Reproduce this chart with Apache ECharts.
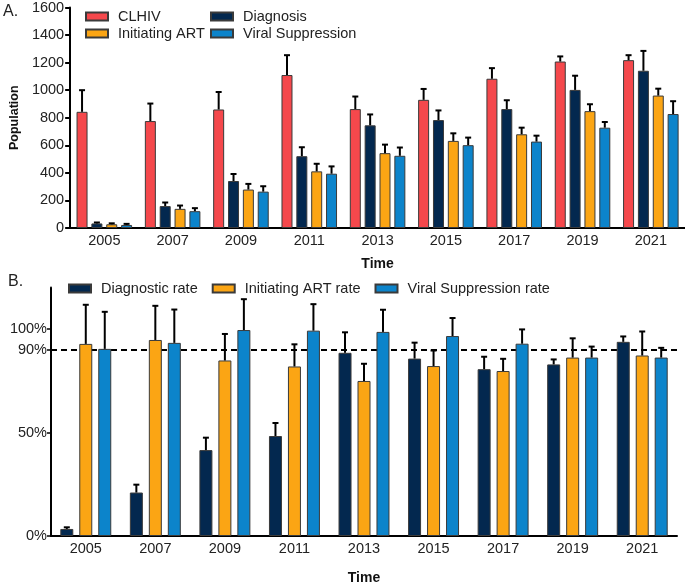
<!DOCTYPE html>
<html>
<head>
<meta charset="utf-8">
<script src="https://cdn.jsdelivr.net/npm/echarts@6/dist/echarts.min.js"></script>
<style>
html,body{margin:0;padding:0;background:#fff;}
#c{width:685px;height:586px;}
</style>
</head>
<body>
<div id="c"></div>
<script>
// ---- Data ----
var years = ['2005','2007','2009','2011','2013','2015','2017','2019','2021'];
// Panel A (population)
var clhiv = [843, 776, 860, 1110, 863, 930, 1083, 1208, 1218];
var clhivUpper = [1000, 903, 987, 1254, 954, 1009, 1160, 1245, 1254];
var diagnosis = [33, 159, 341, 521, 745, 783, 863, 1002, 1141];
var diagnosisUpper = [40, 185, 392, 586, 824, 853, 927, 1105, 1285];
var initiatingArt = [27, 139, 279, 411, 543, 632, 680, 848, 961];
var initiatingArtUpper = [34, 163, 320, 466, 605, 687, 728, 898, 1011];
var viralSuppression = [22, 122, 264, 394, 524, 601, 627, 728, 827];
var viralSuppressionUpper = [30, 144, 303, 447, 584, 656, 670, 769, 920];
var popTicks = [0, 200, 400, 600, 800, 1000, 1200, 1400, 1600];
// Panel B (rates, %)
var diagRate = [3.4, 21, 41.5, 48.3, 88.5, 85.7, 80.6, 82.9, 93.8];
var diagRateUpper = [4.2, 24.8, 47.5, 54.6, 98.4, 93.4, 86.6, 85.3, 96.4];
var artRate = [92.8, 94.7, 84.8, 81.9, 74.9, 82.1, 79.7, 86.2, 87.2];
var artRateUpper = [111.7, 111.2, 97.6, 92.6, 83.2, 89.6, 85.6, 95.5, 98.8];
var vsRate = [90.4, 93.3, 99.5, 99.2, 98.6, 96.6, 92.9, 86.2, 86.2];
var vsRateUpper = [108.3, 109.4, 114.4, 112, 109.3, 105.3, 99.8, 91.5, 90.9];
var rateTicks = [0, 50, 90, 100];
var targetRate = 90;

// ---- Style ----
var C_RED = '#F5484C', C_NAVY = '#03284F', C_ORANGE = '#FBA514', C_BLUE = '#0C84CB';
var FONT = 'Liberation Sans, Arial, sans-serif';
var BORDER = '#3a3a3a';

function errData(vals, ups){
  return vals.map(function(v,i){ return [i, v, ups[i]]; });
}
function errSeries(xi, yi, vals, ups, offset){
  return {
    type: 'custom', xAxisIndex: xi, yAxisIndex: yi, z: 3,
    encode: {x: 0, y: [1, 2]},
    data: errData(vals, ups),
    silent: true,
    renderItem: function(params, api){
      var p0 = api.coord([api.value(0), api.value(1)]);
      var p1 = api.coord([api.value(0), api.value(2)]);
      var x = p0[0] + offset;
      var st = {stroke: '#000', lineWidth: 2};
      return {type: 'group', children: [
        {type: 'line', shape: {x1: x, y1: p0[1], x2: x, y2: p1[1]}, style: st},
        {type: 'line', shape: {x1: x - 3, y1: p1[1], x2: x + 3, y2: p1[1]}, style: st}
      ]};
    }
  };
}
function barSeries(name, xi, yi, data, color, w, gap){
  return {
    name: name, type: 'bar', xAxisIndex: xi, yAxisIndex: yi,
    data: data, barWidth: w, barGap: gap,
    itemStyle: {color: color, borderColor: BORDER, borderWidth: 1},
    emphasis: {disabled: true}
  };
}

var wA = 11, gapA = 0.35, pitchA = wA * (1 + gapA);
var wB = 13, gapB = 0.46, pitchB = wB * (1 + gapB);

var axisLineStyle = {color: '#000', width: 2};
var tickLabel = {color: '#222', fontSize: 14.5, fontFamily: FONT};

var series = [
  barSeries('CLHIV', 0, 0, clhiv, C_RED, wA, '35%'),
  barSeries('Diagnosis', 0, 0, diagnosis, C_NAVY, wA, '35%'),
  barSeries('Initiating ART', 0, 0, initiatingArt, C_ORANGE, wA, '35%'),
  barSeries('Viral Suppression', 0, 0, viralSuppression, C_BLUE, wA, '35%'),
  errSeries(0, 0, clhiv, clhivUpper, -1.5 * pitchA),
  errSeries(0, 0, diagnosis, diagnosisUpper, -0.5 * pitchA),
  errSeries(0, 0, initiatingArt, initiatingArtUpper, 0.5 * pitchA),
  errSeries(0, 0, viralSuppression, viralSuppressionUpper, 1.5 * pitchA),
  barSeries('Diagnostic rate', 1, 1, diagRate, C_NAVY, wB, '46%'),
  barSeries('Initiating ART rate', 1, 1, artRate, C_ORANGE, wB, '46%'),
  barSeries('Viral Suppression rate', 1, 1, vsRate, C_BLUE, wB, '46%'),
  errSeries(1, 1, diagRate, diagRateUpper, -pitchB),
  errSeries(1, 1, artRate, artRateUpper, 0),
  errSeries(1, 1, vsRate, vsRateUpper, pitchB)
];
series[8].markLine = {
  silent: true, symbol: 'none', z: 1,
  label: {show: false},
  lineStyle: {color: '#000', type: [6, 4], width: 2},
  data: [{yAxis: targetRate}]
};

var legendText = {fontSize: 14.5, color: '#222', fontFamily: FONT, padding: [0, 0, 0, 5]};
var legendCommon = {
  icon: 'rect', itemWidth: 22, itemHeight: 8, textStyle: legendText,
  selectedMode: false, padding: 0
};

var option = {
  animation: false,
  backgroundColor: '#fff',
  textStyle: {fontFamily: FONT},
  grid: [
    {left: 64, top: 6, width: 621, height: 222, containLabel: false},
    {left: 51, top: 287.6, width: 626, height: 250.1, containLabel: false}
  ],
  legend: [
    Object.assign({}, legendCommon, {orient: 'vertical', left: 85, top: 9, itemGap: 2, data: ['CLHIV', 'Initiating ART']}),
    Object.assign({}, legendCommon, {orient: 'vertical', left: 210, top: 9, itemGap: 2, data: ['Diagnosis', 'Viral Suppression']}),
    Object.assign({}, legendCommon, {orient: 'horizontal', left: 68, top: 281, itemGap: 14, data: ['Diagnostic rate', 'Initiating ART rate', 'Viral Suppression rate']})
  ],
  xAxis: [
    {type: 'category', gridIndex: 0, data: years,
     axisLine: {lineStyle: axisLineStyle},
     axisTick: {alignWithLabel: true, length: 4, lineStyle: {width: 2, color: '#000'}},
     axisLabel: Object.assign({margin: 5}, tickLabel),
     name: 'Time', nameLocation: 'middle', nameGap: 29,
     nameTextStyle: {fontSize: 14, fontWeight: 'bold', color: '#111', fontFamily: FONT}},
    {type: 'category', gridIndex: 1, data: years,
     axisLine: {lineStyle: axisLineStyle},
     axisTick: {alignWithLabel: true, length: 4, lineStyle: {width: 2, color: '#000'}},
     axisLabel: Object.assign({margin: 5}, tickLabel),
     name: 'Time', nameLocation: 'middle', nameGap: 35,
     nameTextStyle: {fontSize: 14, fontWeight: 'bold', color: '#111', fontFamily: FONT}}
  ],
  yAxis: [
    {type: 'value', gridIndex: 0, min: popTicks[0], max: popTicks[popTicks.length - 1], interval: 200,
     axisLine: {show: true, lineStyle: axisLineStyle},
     axisTick: {show: true, length: 5, lineStyle: {width: 2, color: '#000'}},
     splitLine: {show: false},
     axisLabel: Object.assign({margin: 6, formatter: function(v){ return String(v); }}, tickLabel),
     name: 'Population', nameLocation: 'middle', nameGap: 45,
     nameTextStyle: {fontSize: 12.5, fontWeight: 'bold', color: '#111', fontFamily: FONT}},
    {type: 'value', gridIndex: 1, min: 0, max: 120,
     axisLine: {show: true, lineStyle: axisLineStyle},
     axisTick: {show: true, length: 4, lineStyle: {width: 1.5, color: '#000'}, customValues: rateTicks},
     splitLine: {show: false},
     axisLabel: Object.assign({margin: 4, customValues: rateTicks, formatter: '{value}%'}, tickLabel)}
  ],
  graphic: [
    {type: 'text', left: 3, top: 4, style: {text: 'A.', fontSize: 16, fill: '#222', fontFamily: FONT}},
    {type: 'text', left: 8, top: 274, style: {text: 'B.', fontSize: 16, fill: '#222', fontFamily: FONT}}
  ],
  series: series
};

var chart = echarts.init(document.getElementById('c'), null, {renderer: 'canvas'});
chart.setOption(option);
</script>
</body>
</html>
